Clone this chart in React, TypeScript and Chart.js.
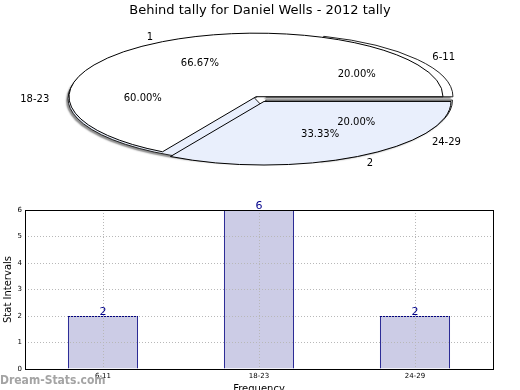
import React, { useEffect, useRef } from 'react';
import { Chart, registerables } from 'chart.js';

Chart.register(...registerables);

// ---- data ----
const chartTitle = 'Behind tally for Daniel Wells - 2012 tally';
const ageBands = ['6-11', '18-23', '24-29'];
const bandCounts = [2, 6, 2];
const tallyLabels = ['1', '2'];
const tallyCounts = [2, 1];
const yTickMax = 6;
const yAxisTitle = 'Stat Intervals';
const xAxisTitle = 'Frequency';
const watermark = 'Dream-Stats.com';

// ---- styles ----
const FONT = "'DejaVu Sans', sans-serif";
const ELL = { cx: 259, cy: 98.5, k: 0.34, r: 187 };
const sliceFill: Record<string, string> = {
  '1': '#ffffff',
  '2': '#e9effc',
  '6-11': '#ffffff',
  '18-23': '#e9effc',
  '24-29': '#ffffff',
};
const sliceExplode: Record<string, number> = {
  '1': 6,
  '2': 10,
  '6-11': 8.6,
  '18-23': 4,
  '24-29': 8,
};

const rev = <T,>(a: T[]) => a.slice().reverse();

const ellipsePiePlugin = {
  id: 'ellipsePie',
  afterDatasetsUpdate(chart: any) {
    chart.data.datasets.forEach((ds: any, di: number) => {
      const meta = chart.getDatasetMeta(di);
      meta.data.forEach((arc: any, i: number) => {
        const mid = (arc.startAngle + arc.endAngle) / 2;
        const t = sliceExplode[ds.sliceLabels[i]] || 0;
        arc.innerRadius = 0;
        arc.outerRadius = ELL.r;
        arc.x += Math.cos(mid) * t;
        arc.y += Math.sin(mid) * t;
      });
    });
  },
  beforeDatasetDraw(chart: any, args: any) {
    const ctx = chart.ctx;
    const a = chart.chartArea;
    const cx0 = (a.left + a.right) / 2;
    const cy0 = (a.top + a.bottom) / 2;
    ctx.save();
    const base = ctx.getTransform();
    ctx.translate(ELL.cx, ELL.cy);
    ctx.scale(1, ELL.k);
    ctx.translate(-cx0, -cy0);
    const proto = CanvasRenderingContext2D.prototype.stroke;
    (ctx as any).stroke = function (...s: any[]) {
      this.save();
      this.setTransform(base);
      this.shadowColor = 'rgba(0,0,0,0)';
      (proto as any).apply(this, s);
      this.restore();
    };
    if (args.index === 1) {
      ctx.shadowColor = 'rgba(0,0,0,0.45)';
      ctx.shadowOffsetX = -2;
      ctx.shadowOffsetY = 2;
      ctx.shadowBlur = 1.5;
    }
  },
  afterDatasetDraw(chart: any) {
    delete (chart.ctx as any).stroke;
    chart.ctx.restore();
  },
  afterDraw(chart: any) {
    const ctx = chart.ctx;
    const a = chart.chartArea;
    const cx0 = (a.left + a.right) / 2;
    const cy0 = (a.top + a.bottom) / 2;
    ctx.save();
    ctx.font = `10px ${FONT}`;
    ctx.fillStyle = '#000';
    ctx.textBaseline = 'middle';
    chart.data.datasets.forEach((ds: any, di: number) => {
      const meta = chart.getDatasetMeta(di);
      const total = ds.data.reduce((s: number, v: number) => s + v, 0);
      meta.data.forEach((arc: any, i: number) => {
        const mid = (arc.startAngle + arc.endAngle) / 2;
        const c = Math.cos(mid);
        const s = Math.sin(mid);
        const at = (d: number) => [
          ELL.cx + (arc.x - cx0) + c * arc.outerRadius * d,
          ELL.cy + (arc.y - cy0 + s * arc.outerRadius * d) * ELL.k,
        ];
        const [lx, ly] = at(1.1);
        ctx.textAlign = c < -1e-6 ? 'right' : 'left';
        ctx.fillText(ds.sliceLabels[i], lx, ly + (s < 0 ? 1.5 : 1));
        const [px, py] = at(0.6);
        ctx.textAlign = 'center';
        ctx.fillText(((ds.data[i] / total) * 100).toFixed(2) + '%', px, py);
      });
    });
    ctx.restore();
  },
};

const frameAndValuesPlugin = {
  id: 'frameValues',
  afterDraw(chart: any) {
    const ctx = chart.ctx;
    const a = chart.chartArea;
    ctx.save();
    ctx.strokeStyle = '#000';
    ctx.lineWidth = 1;
    ctx.strokeRect(a.left + 0.5, a.top + 0.5, a.right - a.left, a.bottom - a.top);
    const meta = chart.getDatasetMeta(0);
    ctx.font = `11px ${FONT}`;
    ctx.fillStyle = '#00008b';
    ctx.textAlign = 'center';
    ctx.textBaseline = 'alphabetic';
    meta.data.forEach((bar: any, i: number) => {
      ctx.fillText(String(chart.data.datasets[0].data[i]), bar.x, bar.y - 1);
    });
    ctx.restore();
  },
};

export default function App() {
  const barRef = useRef<HTMLCanvasElement>(null);
  const pieRef = useRef<HTMLCanvasElement>(null);

  useEffect(() => {
    const tallyL = rev(tallyLabels);
    const bandL = rev(ageBands);
    const pie = new Chart(pieRef.current!, {
      type: 'pie',
      data: {
        labels: tallyL,
        datasets: [
          {
            data: rev(tallyCounts),
            sliceLabels: tallyL,
            backgroundColor: tallyL.map((l) => sliceFill[l]),
            borderColor: '#000',
            borderWidth: 1,
          } as any,
          {
            data: rev(bandCounts),
            sliceLabels: bandL,
            backgroundColor: bandL.map((l) => sliceFill[l]),
            borderColor: '#222',
            borderWidth: 1,
          } as any,
        ],
      },
      options: {
        responsive: false,
        animation: false,
        events: [],
        rotation: 90,
        plugins: {
          legend: { display: false },
          tooltip: { enabled: false },
          title: {
            display: true,
            text: chartTitle,
            color: '#000',
            font: { family: FONT, size: 13, weight: 'normal' },
            padding: { top: 3, bottom: 0 },
          },
        },
      },
      plugins: [ellipsePiePlugin],
    } as any);

    const gridCommon = {
      z: 1,
      color: '#b8b8b8',
      lineWidth: 1,
      drawTicks: false,
    };
    const bar = new Chart(barRef.current!, {
      type: 'bar',
      data: {
        labels: ageBands,
        datasets: [
          {
            data: bandCounts,
            backgroundColor: 'rgb(204,204,230)',
            borderColor: '#000080',
            borderWidth: 1,
            barPercentage: 0.45,
            categoryPercentage: 1,
          },
        ],
      },
      options: {
        responsive: false,
        animation: false,
        events: [],
        layout: { padding: { left: 0, right: 27, top: 210, bottom: 5 } },
        plugins: { legend: { display: false }, tooltip: { enabled: false } },
        scales: {
          x: {
            offset: true,
            grid: { ...gridCommon, offset: false },
            border: { display: false, dash: [1, 2] },
            ticks: { color: '#000', font: { family: FONT, size: 7 }, padding: 3, maxRotation: 0 },
            title: {
              display: true,
              text: xAxisTitle,
              color: '#000',
              font: { family: FONT, size: 10 },
              padding: 0,
            },
            afterFit: (s: any) => {
              s.height = 26;
            },
          },
          y: {
            min: 0,
            max: yTickMax,
            grid: gridCommon,
            border: { display: false, dash: [1, 2] },
            ticks: { stepSize: 1, color: '#000', font: { family: FONT, size: 7 }, padding: 3 },
            title: {
              display: true,
              text: yAxisTitle,
              color: '#000',
              font: { family: FONT, size: 10 },
              padding: { top: 2.5, bottom: 0 },
            },
            afterFit: (s: any) => {
              s.width = 25;
            },
          },
        },
      },
      plugins: [frameAndValuesPlugin],
    } as any);

    return () => {
      pie.destroy();
      bar.destroy();
    };
  }, []);

  return (
    <div
      style={{
        position: 'fixed',
        left: 0,
        top: 0,
        width: 520,
        height: 390,
        overflow: 'hidden',
        background: '#fff',
      }}
    >
      <canvas ref={barRef} width={520} height={400} style={{ position: 'absolute', left: 0, top: 0 }} />
      <div
        style={{
          position: 'absolute',
          left: 0,
          top: 373,
          fontFamily: "'DejaVu Sans Condensed', 'DejaVu Sans', sans-serif",
          fontSize: 12,
          fontWeight: 'bold',
          color: '#a4a4a4',
          lineHeight: '14px',
          whiteSpace: 'nowrap',
        }}
      >
        {watermark}
      </div>
      <canvas ref={pieRef} width={520} height={390} style={{ position: 'absolute', left: 0, top: 0 }} />
    </div>
  );
}
